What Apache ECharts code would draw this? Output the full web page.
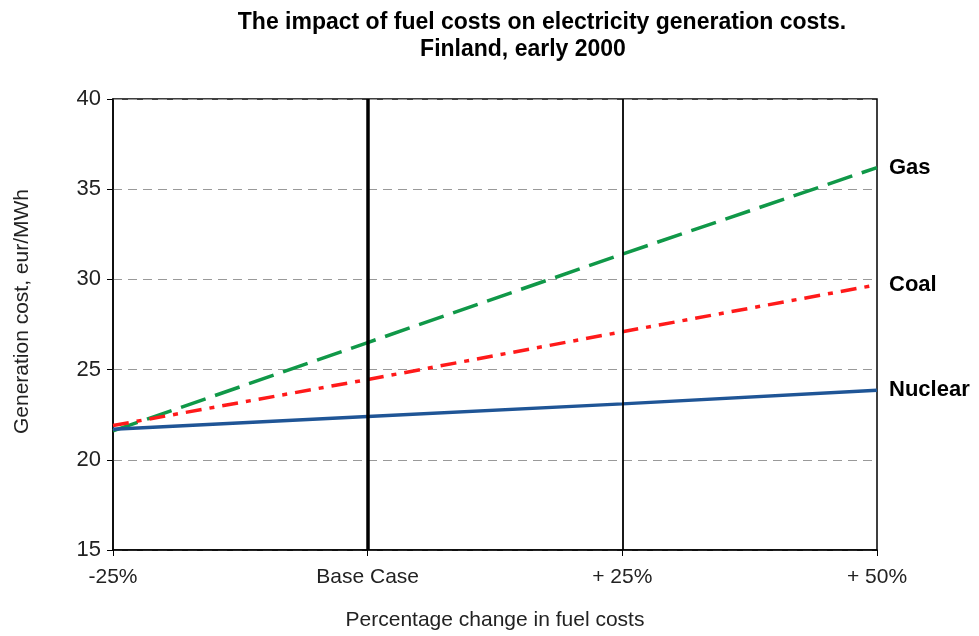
<!DOCTYPE html>
<html><head><meta charset="utf-8">
<script src="https://cdn.jsdelivr.net/npm/echarts@6/dist/echarts.min.js"></script>
<style>html,body{margin:0;padding:0;background:#fff}#c{width:979px;height:636px}</style>
</head><body><div id="c"></div>
<script>
const categories = ['-25%', 'Base Case', '+ 25%', '+ 50%'];
const gas = [21.6, 26.5, 31.4, 36.2];
const coal = [21.9, 24.45, 27.1, 29.7];
const nuclear = [21.7, 22.4, 23.1, 23.85];
const yTicks = [15, 20, 25, 30, 35, 40];

const font = 'Liberation Sans, Arial, sans-serif';
const chart = echarts.init(document.getElementById('c'));
function endLab(name) {
  return { show: true, formatter: name, fontFamily: font, fontWeight: 'bold', fontSize: 22, color: '#000', distance: 12 };
}
const titleStyle = { fontFamily: font, fontWeight: 'bold', fontSize: 23, color: '#000' };
chart.setOption({
  animation: false,
  title: [
    { text: 'The impact of fuel costs on electricity generation costs.', left: 537, top: 6, textAlign: 'center', textStyle: titleStyle },
    { text: 'Finland, early 2000', left: 518, top: 33, textAlign: 'center', textStyle: titleStyle }
  ],
  grid: { left: 113, right: 102, top: 99, bottom: 85, show: true, borderColor: '#000', borderWidth: 1.5 },
  xAxis: {
    type: 'category', data: categories, boundaryGap: false,
    name: 'Percentage change in fuel costs', nameLocation: 'middle', nameGap: 60,
    nameTextStyle: { fontFamily: font, fontSize: 21, color: '#222' },
    axisLine: { lineStyle: { color: '#000', width: 1.5 } },
    axisTick: { show: true, length: 6, lineStyle: { color: '#000' } },
    axisLabel: { fontFamily: font, fontSize: 21, color: '#222', margin: 17 },
    splitLine: { show: false }
  },
  yAxis: {
    type: 'value', min: 15, max: 40, interval: 5,
    name: 'Generation cost, eur/MWh', nameLocation: 'middle', nameGap: 80,
    nameTextStyle: { fontFamily: font, fontSize: 21, color: '#222', padding: [0, 0, 0, 26] },
    axisLine: { show: true, lineStyle: { color: '#000', width: 1.5 } },
    axisTick: { show: true, length: 6, lineStyle: { color: '#000' } },
    axisLabel: { fontFamily: font, fontSize: 22, color: '#222', margin: 12,
      formatter: v => yTicks.includes(v) ? String(v) : '' },
    splitLine: { show: true, lineStyle: { color: '#999', type: [9, 6], width: 1.2 } }
  },
  series: [
    { name: 'Gas', type: 'line', data: gas, symbol: 'none',
      lineStyle: { color: '#109848', width: 3.5, type: [26, 10] },
      endLabel: endLab('Gas'), z: 3,
      markLine: { silent: true, symbol: 'none', label: { show: false },
        data: [
          { xAxis: 'Base Case', lineStyle: { color: '#000', width: 3.5, type: 'solid' } },
          { xAxis: '+ 25%', lineStyle: { color: '#000', width: 1.8, type: 'solid' } }
        ] } },
    { name: 'Coal', type: 'line', data: coal, symbol: 'none',
      lineStyle: { color: '#ff1a1a', width: 3.5, type: [16, 8, 5, 8] },
      endLabel: endLab('Coal'), z: 3 },
    { name: 'Nuclear', type: 'line', data: nuclear, symbol: 'none',
      lineStyle: { color: '#1f5596', width: 3.5, type: 'solid' },
      endLabel: endLab('Nuclear'), z: 3 }
  ]
});
</script></body></html>
